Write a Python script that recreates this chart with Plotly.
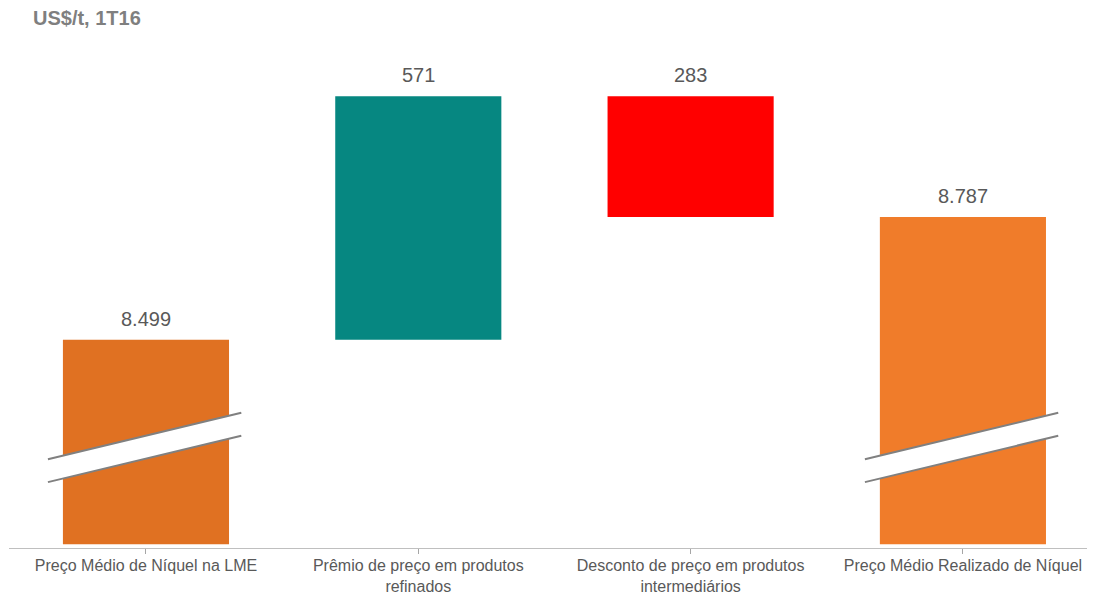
import plotly.graph_objects as go

# ---- data ----
categories = [
    "Preço Médio de Níquel na LME",
    "Prêmio de preço em produtos<br>refinados",
    "Desconto de preço em produtos<br>intermediários",
    "Preço Médio Realizado de Níquel",
]
measures = ["absolute", "relative", "relative", "total"]
values = [8499, 571, -283, 8787]
value_labels = ["8.499", "571", "283", "8.787"]
colors = ["#E07122", "#068781", "#FF0000", "#F07C2A"]

# ---- axis (broken) ----
Y_MIN = 8011
Y_MAX = 9155
BAR_FLOOR = 8020  # visible foot of the "absolute" bars (axis is broken)
X_RANGE = [-0.503, 3.485]

# compute bases / tops from the data
bases, heights, tops = [], [], []
running = 0
for m, v in zip(measures, values):
    if m in ("absolute", "total"):
        base = BAR_FLOOR
        h = v - BAR_FLOOR
        running = v
        top = v
    else:
        if v >= 0:
            base = running
            h = v
            top = running + v
        else:
            base = running + v
            h = -v
            top = running
        running += v
    bases.append(base)
    heights.append(h)
    tops.append(top)

fig = go.Figure()
fig.add_trace(go.Bar(
    x=list(range(len(categories))),
    y=heights,
    base=bases,
    marker=dict(color=colors, line=dict(width=0)),
    hoverinfo="skip",
))

FONT = "Arial, Liberation Sans, sans-serif"
annotations = []
for i, (t, lab) in enumerate(zip(tops, value_labels)):
    annotations.append(dict(
        x=i, y=t, xref="x", yref="y", text=lab, showarrow=False,
        yanchor="bottom", yshift=8,
        font=dict(family=FONT, size=20, color="#595959"),
    ))

# ---- axis-break markers on the "absolute"/"total" bars ----
n = len(categories)


def to_paper(xv):
    return (xv - X_RANGE[0]) / (X_RANGE[1] - X_RANGE[0])


shapes = []
for i, m in enumerate(measures):
    if m not in ("absolute", "total"):
        continue
    xl = to_paper(i - 0.36)
    xr = to_paper(i + 0.35)
    y_top_l, y_top_r = 0.182, 0.277
    y_bot_l, y_bot_r = 0.135, 0.230
    shapes.append(dict(
        type="path", xref="paper", yref="paper",
        path=f"M {xl} {y_top_l} L {xr} {y_top_r} L {xr} {y_bot_r} L {xl} {y_bot_l} Z",
        fillcolor="white", line=dict(width=0), layer="above",
    ))
    for (a, b) in ((y_top_l, y_top_r), (y_bot_l, y_bot_r)):
        shapes.append(dict(
            type="line", xref="paper", yref="paper",
            x0=xl, y0=a, x1=xr, y1=b,
            line=dict(color="#808080", width=2), layer="above",
        ))

# page body has an 8px margin: figure is sized to fill the rest of the window
W, H = 1087, 587
fig.update_layout(
    width=W, height=H,
    margin=dict(l=1, r=0, t=52, b=47, autoexpand=False),
    paper_bgcolor="white", plot_bgcolor="white",
    bargap=0.39,
    showlegend=False,
    title=dict(
        text="<b>US$/t, 1T16</b>", xref="container", yref="container",
        x=25 / W, xanchor="left", y=1 - 10 / H, yanchor="middle",
        font=dict(family=FONT, size=20, color="#7F7F7F"),
    ),
    annotations=annotations,
    shapes=shapes,
    xaxis=dict(
        tickmode="array", tickvals=list(range(n)), ticktext=categories,
        range=X_RANGE,
        showline=True, linecolor="#BFBFBF", linewidth=1,
        ticks="outside", tickson="boundaries", ticklen=5, tickcolor="#A6A6A6",
        ticklabelstandoff=-2,
        showgrid=False, zeroline=False, automargin=False,
        tickfont=dict(family=FONT, size=16, color="#595959"),
    ),
    yaxis=dict(range=[Y_MIN, Y_MAX], visible=False, showgrid=False, zeroline=False),
)

fig.write_html("out.html")
